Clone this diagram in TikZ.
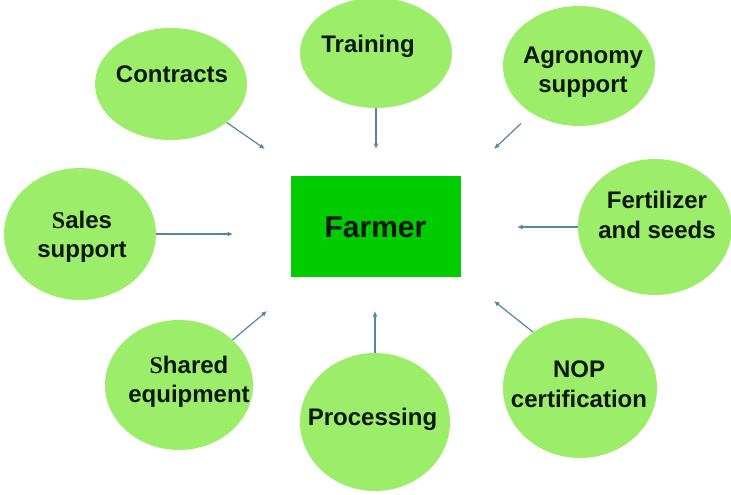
\documentclass[tikz,border=0pt]{standalone}
\usepackage{fontspec}
\setmainfont{Liberation Sans}
\newfontfamily\serifS{Liberation Serif}
\usetikzlibrary{shapes.geometric,arrows.meta}
\definecolor{leaf}{HTML}{9CEE6A}
\definecolor{boxgreen}{HTML}{00CC00}
\definecolor{arrowblue}{HTML}{55879E}
\definecolor{ink}{HTML}{0C180C}
\tikzset{
  bubble/.style={ellipse, fill=leaf, draw=none, inner sep=0pt},
  lbl/.style={font=\fontsize{24}{29.5}\selectfont\bfseries, text=ink, align=center, inner sep=0pt},
  feed/.style={draw=arrowblue, line width=1.2pt, -{Latex[length=5.5pt,width=5pt]}}
}
\begin{document}
\begin{tikzpicture}[x=1pt,y=-1pt]
\useasboundingbox (0,0) rectangle (731,495);
% central box
\node[fill=boxgreen, minimum width=170pt, minimum height=101pt, inner sep=0pt] (farmer) at (376,226.5) {};
\node[font=\fontsize{30}{34}\selectfont\bfseries, text=ink, inner sep=0pt] (farmerlbl) at (375.5,227) {Farmer};
% bubbles
\node[bubble, minimum width=152pt, minimum height=112pt] (con) at (171,84) {};
\node[bubble, minimum width=152pt, minimum height=110pt] (tra) at (376,53) {};
\node[bubble, minimum width=152pt, minimum height=120pt] (agr) at (579,66) {};
\node[bubble, minimum width=154pt, minimum height=136pt] (fer) at (655,227) {};
\node[bubble, minimum width=154pt, minimum height=140pt] (nop) at (580,388) {};
\node[bubble, minimum width=150pt, minimum height=138pt] (pro) at (375,422) {};
\node[bubble, minimum width=148pt, minimum height=130pt] (sha) at (179,385) {};
\node[bubble, minimum width=152pt, minimum height=132pt] (sal) at (80,234) {};
% labels
\node[lbl] (conlbl) at (172,74) {Contracts};
\node[lbl] (tralbl) at (368,46.5) {Training};
\node[lbl] (agrlbl) at (583,72) {Agronomy\\support};
\node[lbl] (ferlbl) at (657,215) {Fertilizer\\and seeds};
\node[lbl] (noplbl) at (579,384) {NOP\\certification};
\node[lbl] (prolbl) at (372.5,419) {Processing};
\node[lbl] (shalbl) at (189,382) {{\serifS S}hared\\equipment};
\node[lbl] (sallbl) at (82,237) {{\serifS S}ales\\support};
% arrow tips
\coordinate (tcon) at (265,149);
\coordinate (ttra) at (376,149);
\coordinate (tagr) at (494,149);
\coordinate (tfer) at (517,227);
\coordinate (tnop) at (494,301);
\coordinate (tpro) at (375,311);
\coordinate (tsha) at (267,311);
\coordinate (tsal) at (233,234);
% connectors
\draw[feed] (con) -- (tcon);
\draw[feed] (tra) -- (ttra);
\draw[feed, shorten <=15pt] (agr.225) -- (tagr);
\draw[feed] (fer) -- (tfer);
\draw[feed] (nop.130) -- (tnop);
\draw[feed] (pro) -- (tpro);
\draw[feed] (sha) -- (tsha);
\draw[feed] (sal) -- (tsal);
\end{tikzpicture}
\end{document}
